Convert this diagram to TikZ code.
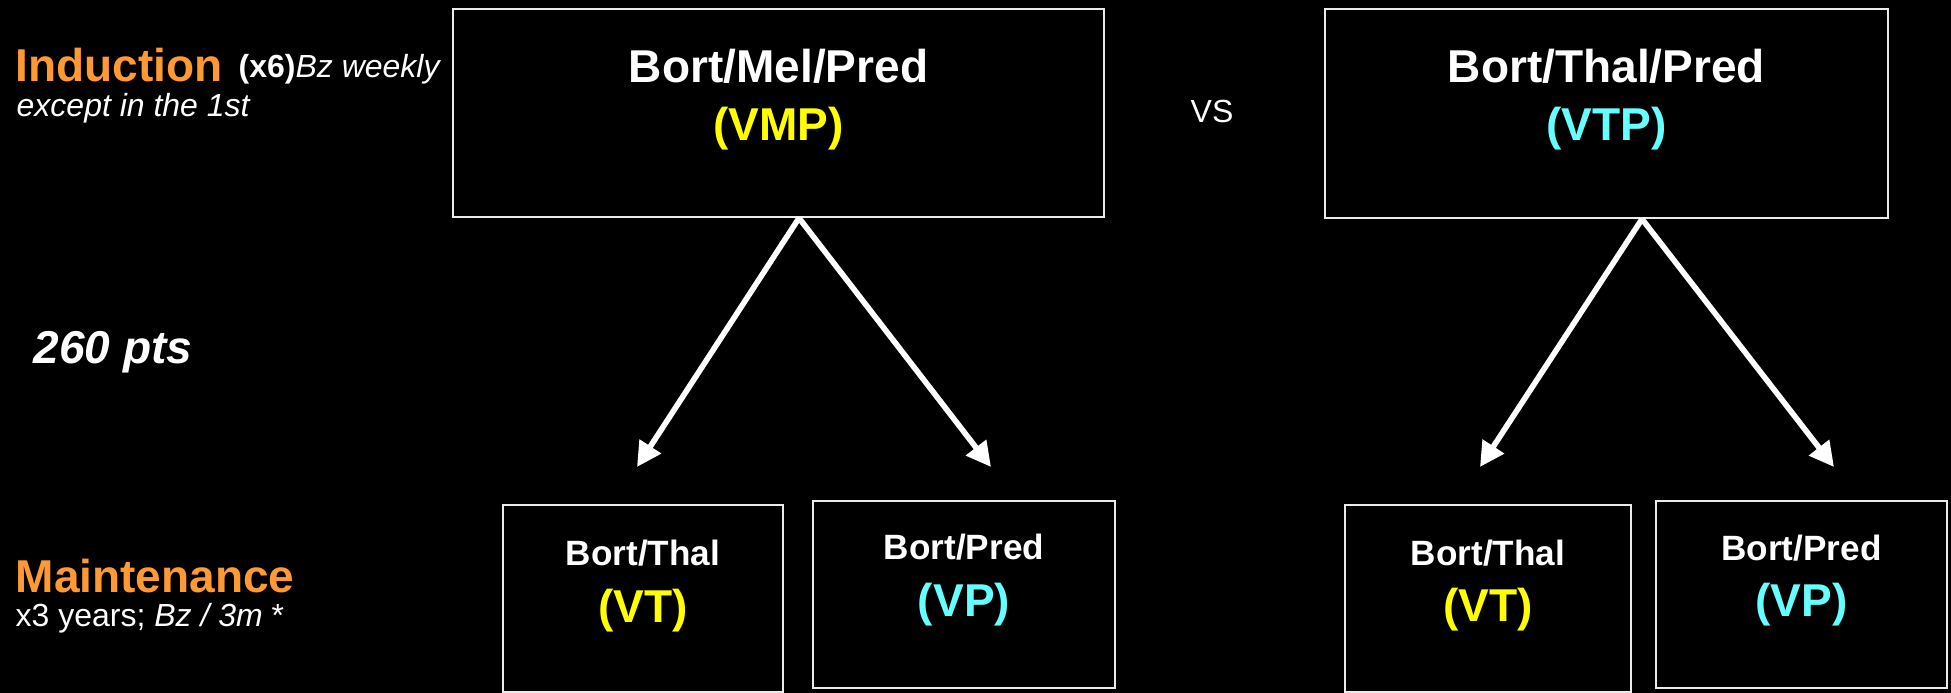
\documentclass[tikz,border=0pt]{standalone}
\usepackage{fontspec}
\setmainfont{Liberation Sans}
\usetikzlibrary{arrows.meta}
\definecolor{orng}{HTML}{FF9933}
\definecolor{ylw}{HTML}{FFFF00}
\definecolor{cyn}{HTML}{66FFFF}
\begin{document}
\begin{tikzpicture}[x=0.1mm,y=-0.1mm,
 box/.style={draw=white!92!black, line width=0.6pt, fill=black, inner sep=0pt},
 big/.style={font=\fontsize{13.1pt}{15pt}\selectfont\bfseries},
 small/.style={font=\fontsize{9.1pt}{11pt}\selectfont},
 mid/.style={font=\fontsize{10pt}{12pt}\selectfont\bfseries},
 txt/.style={inner sep=0pt, text=white},
 arr/.style={draw=white, line width=1.6pt, -{Triangle[length=7pt,width=7pt]}}]

\fill[black] (0,0) rectangle (1951,693);
\useasboundingbox (0,0) rectangle (1951,693);

% left labels
\node[txt,big,anchor=base west,text=orng] (ind) at (15,82) {Induction};
\node[txt,small,anchor=base west] (indx) at (238,78) {\textbf{(x6)}\textit{Bz weekly}};
\node[txt,small,anchor=base west] (exc) at (16,117) {\textit{except in the 1st}};
\node[txt,anchor=base west,font=\fontsize{13.1pt}{15pt}\selectfont\bfseries\itshape] (pts) at (33,364) {260 pts};
\node[txt,big,anchor=base west,text=orng] (maint) at (15,593) {Maintenance};
\node[txt,small,anchor=base west] (mx) at (15,627) {x3 years; \textit{Bz / 3m} *};
\node[txt,small,anchor=base west] (vs) at (1190,123) {VS};

% induction boxes
\node[box, minimum width=65.1mm, minimum height=20.8mm] (vmp) at (778.5,113) {};
\node[txt,big,anchor=base] (vmpa) at (778.5,83) {Bort/Mel/Pred};
\node[txt,big,anchor=base,text=ylw] (vmpb) at (778.5,141) {(VMP)};

\node[box, minimum width=56.3mm, minimum height=20.9mm] (vtp) at (1606.5,113.5) {};
\node[txt,big,anchor=base] (vtpa) at (1606.5,83) {Bort/Thal/Pred};
\node[txt,big,anchor=base,text=cyn] (vtpb) at (1606.5,141) {(VTP)};

% maintenance boxes
\node[box, minimum width=28mm, minimum height=18.7mm] (vt1) at (643,598.5) {};
\node[txt,mid,anchor=base] (vt1a) at (643,566) {Bort/Thal};
\node[txt,big,anchor=base,text=ylw] (vt1b) at (643,623) {(VT)};

\node[box, minimum width=30.2mm, minimum height=18.7mm] (vp1) at (964,594.5) {};
\node[txt,mid,anchor=base] (vp1a) at (964,560) {Bort/Pred};
\node[txt,big,anchor=base,text=cyn] (vp1b) at (964,617) {(VP)};

\node[box, minimum width=28.6mm, minimum height=18.7mm] (vt2) at (1488,598.5) {};
\node[txt,mid,anchor=base] (vt2a) at (1488,566) {Bort/Thal};
\node[txt,big,anchor=base,text=ylw] (vt2b) at (1488,622) {(VT)};

\node[box, minimum width=29.1mm, minimum height=18.7mm] (vp2) at (1801.5,594.5) {};
\node[txt,mid,anchor=base] (vp2a) at (1801.5,561) {Bort/Pred};
\node[txt,big,anchor=base,text=cyn] (vp2b) at (1801.5,617) {(VP)};

% arrows
\coordinate (t1) at (637,467);
\coordinate (t2) at (991,467);
\coordinate (t3) at (1480,467);
\coordinate (t4) at (1834,467);
\draw[arr] ([xshift=2.05mm]vmp.south) -- (t1);
\draw[arr] ([xshift=2.05mm]vmp.south) -- (t2);
\draw[arr] ([xshift=3.55mm]vtp.south) -- (t3);
\draw[arr] ([xshift=3.55mm]vtp.south) -- (t4);
\end{tikzpicture}
\end{document}
